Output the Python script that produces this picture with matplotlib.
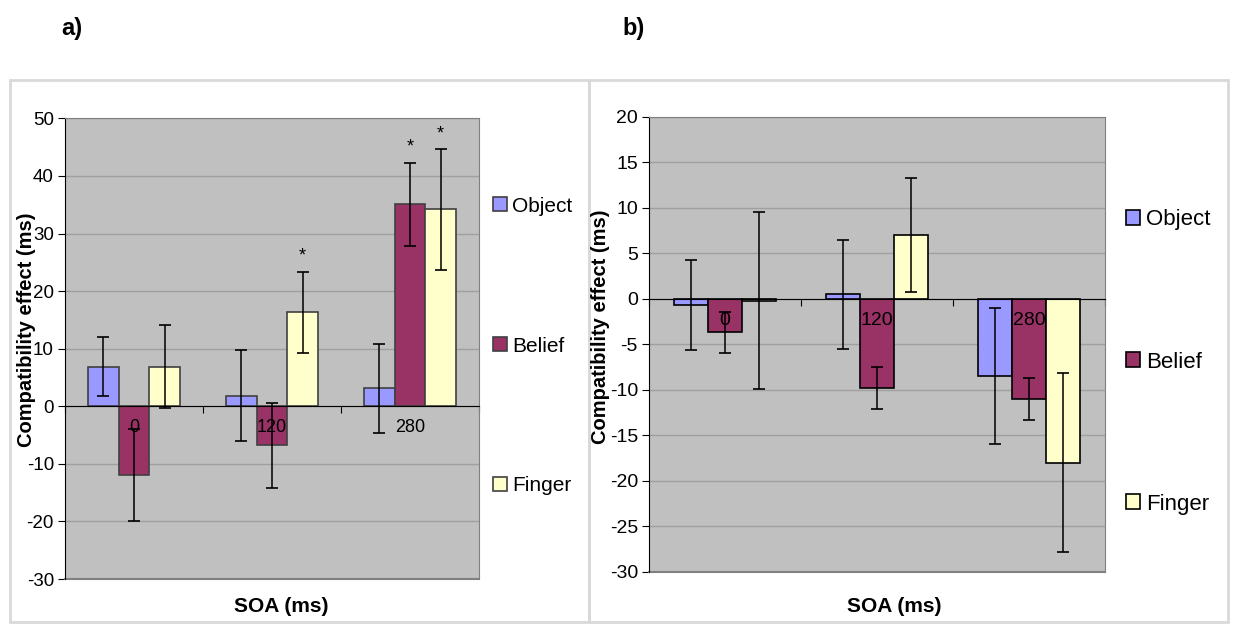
import matplotlib
matplotlib.use("Agg")
import matplotlib.pyplot as plt
import numpy as np
from matplotlib.patches import Rectangle

plt.rcParams["font.family"] = ["Liberation Sans", "DejaVu Sans"]

# ---- data -------------------------------------------------------------
soa_labels = ["0", "120", "280"]
series_names = ["Object", "Belief", "Finger"]
series_colors = ["#9999FF", "#993366", "#FFFFCC"]

# panel a
a_object = [6.9, 1.8, 3.1]
a_belief = [-12.0, -6.8, 35.1]
a_finger = [6.9, 16.3, 34.2]
a_object_err = [5.1, 7.9, 7.8]
a_belief_err = [8.0, 7.4, 7.2]
a_finger_err = [7.2, 7.1, 10.5]
a_stars = [(2, 1), (1, 2), (2, 2)]   # (series index, group index)

# panel b
b_object = [-0.7, 0.5, -8.5]
b_belief = [-3.7, -9.8, -11.0]
b_finger = [-0.2, 7.0, -18.0]
b_object_err = [4.9, 6.0, 7.45]
b_belief_err = [2.25, 2.3, 2.3]
b_finger_err = [9.7, 6.3, 9.8]

a_yticks = list(range(-30, 51, 10))
b_yticks = list(range(-30, 21, 5))

# ---- figure -----------------------------------------------------------
W, H = 1235, 624
fig = plt.figure(figsize=(W / 100, H / 100), dpi=100)
fig.patch.set_facecolor("white")


def fx(px):
    return px / W


def fy(py):
    return 1 - py / H


# outer panel frames
for x0, x1 in [(10, 589), (589, 1228)]:
    fig.patches.append(Rectangle((fx(x0), fy(622)), fx(x1 - x0), (622 - 80) / H,
                                 transform=fig.transFigure, fill=False,
                                 edgecolor="#d9d9d9", linewidth=2))


def draw_panel(rect, values, errs, yticks, tick_fs, cat_fs, label_y,
               edge, stars=None):
    ax = fig.add_axes(rect)
    ax.set_facecolor("#C0C0C0")
    n = len(soa_labels)
    x = np.arange(n)
    w = 0.6667 / 3
    bars = []
    for k, (vals, er) in enumerate(zip(values, errs)):
        pos = x + (k - 1) * w
        b = ax.bar(pos, vals, width=w, color=series_colors[k], edgecolor=edge,
                   linewidth=1.2, zorder=3, label=series_names[k])
        ax.errorbar(pos, vals, yerr=er, fmt="none", ecolor="black",
                    elinewidth=1.1, capsize=4, capthick=1.2, zorder=4)
        bars.append(b)
    if stars:
        for k, g in stars:
            pos = g + (k - 1) * w
            top = values[k][g] + errs[k][g]
            ax.text(pos, top + 1.2, "*", ha="center", va="bottom",
                    fontsize=13, zorder=5)
    ax.set_xlim(-0.5, n - 0.5)
    ax.set_ylim(yticks[0], yticks[-1])
    ax.set_yticks(yticks)
    ax.set_yticklabels([str(t) for t in yticks], fontsize=tick_fs)
    ax.yaxis.grid(True, color="#A0A0A0", linewidth=1, zorder=0)
    ax.set_axisbelow(True)
    # category axis crosses at zero
    ax.spines["bottom"].set_position(("data", 0))
    ax.spines["bottom"].set_color("black")
    ax.spines["bottom"].set_zorder(3.5)
    ax.spines["left"].set_color("black")
    for s in ("top", "right"):
        ax.spines[s].set_color("#808080")
    ax.axhline(yticks[0], color="#808080", linewidth=1.5, clip_on=False)
    ax.set_xticks(np.arange(n + 1) - 0.5)
    ax.set_xticklabels([])
    ax.tick_params(axis="x", length=5, direction="out", color="black")
    ax.tick_params(axis="y", length=5, direction="out", pad=3)
    for i, lab in enumerate(soa_labels):
        ax.text(i, label_y, lab, ha="center", va="center", fontsize=cat_fs,
                zorder=6)
    return ax, bars


ax_a, bars_a = draw_panel(
    [fx(65), fy(579), fx(479 - 65), (579 - 118.4) / H],
    [a_object, a_belief, a_finger],
    [a_object_err, a_belief_err, a_finger_err],
    a_yticks, 13.5, 13, -3.6, "#404040", stars=a_stars)

ax_b, bars_b = draw_panel(
    [fx(649), fy(571.7), fx(1105 - 649), (571.7 - 116.7) / H],
    [b_object, b_belief, b_finger],
    [b_object_err, b_belief_err, b_finger_err],
    b_yticks, 14, 14, -2.4, "black")

# legends
ax_a.legend(handles=bars_a, labels=series_names, loc="center left",
            bbox_to_anchor=(fx(493), fy(346)), bbox_transform=fig.transFigure,
            frameon=False, fontsize=15, handlelength=0.65, handleheight=0.65,
            handletextpad=0.25, labelspacing=5.8, borderpad=0, borderaxespad=0)
ax_b.legend(handles=bars_b, labels=series_names, loc="center left",
            bbox_to_anchor=(fx(1126), fy(362)), bbox_transform=fig.transFigure,
            frameon=False, fontsize=16, handlelength=0.65, handleheight=0.65,
            handletextpad=0.25, labelspacing=5.45, borderpad=0, borderaxespad=0)

# axis titles
for xc, yc in [(27, 330), (601, 327)]:
    fig.text(fx(xc), fy(yc), "Compatibility effect (ms)", rotation=90,
             ha="center", va="center", fontsize=14.5, fontweight="bold")
for xc in (281, 894):
    fig.text(fx(xc), fy(607), "SOA (ms)", ha="center", va="center",
             fontsize=15, fontweight="bold")

# panel letters
fig.text(fx(72), fy(29), "a)", ha="center", va="center", fontsize=17,
         fontweight="bold")
fig.text(fx(634), fy(29), "b)", ha="center", va="center", fontsize=17,
         fontweight="bold")

fig.savefig("out.png", dpi=100)
